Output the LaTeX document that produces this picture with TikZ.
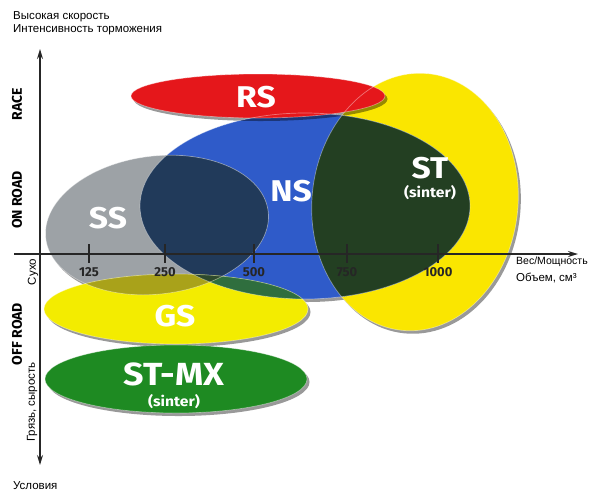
\documentclass[tikz,border=0pt]{standalone}
\usepackage{fontspec}
\setmainfont{Liberation Sans}
\newfontfamily\lf{Fira Sans}
\usetikzlibrary{arrows.meta}
\definecolor{redRS}{HTML}{E5171B}
\definecolor{yelST}{HTML}{FAE600}
\definecolor{blueNS}{HTML}{2F5BC9}
\definecolor{greenST}{HTML}{233F22}
\definecolor{greySS}{HTML}{9DA2A6}
\definecolor{navy}{HTML}{213A5A}
\definecolor{yelGS}{HTML}{F3EC00}
\definecolor{olive}{HTML}{A9A21A}
\definecolor{gsnavy}{HTML}{2E4A2C}
\definecolor{gsblue}{HTML}{2F6E3E}
\definecolor{greenMX}{HTML}{1E8A22}
\newcommand\wide[1]{\scalebox{1.12}[1]{#1}}
\def\pRS{(258,96) ellipse [x radius=127, y radius=22]}
\def\pST{(415,202) ellipse [x radius=103, y radius=129, rotate=-6]}
\def\pNS{(305,206) ellipse [x radius=165, y radius=93]}
\def\pSS{(157,225) ellipse [x radius=112, y radius=69, rotate=7]}
\def\pGS{(176,309) ellipse [x radius=132, y radius=35]}
\def\pMX{(176,379) ellipse [x radius=131, y radius=34]}
\begin{document}
\begin{tikzpicture}[x=1pt,y=-1pt,
  big/.style={font=\lf\bfseries\fontsize{30}{30}\selectfont, text=white, inner sep=0pt},
  sub/.style={font=\lf\bfseries\fontsize{14}{14}\selectfont, text=white, inner sep=0pt},
  ticklbl/.style={font=\lf\bfseries\fontsize{13}{13}\selectfont, text=black!85, inner sep=0pt},
  cat/.style={font=\lf\bfseries\fontsize{14}{14}\selectfont, rotate=90, inner sep=0pt},
  note/.style={font=\fontsize{11.5}{13.5}\selectfont, inner sep=0pt, align=left},
  axis/.style={line width=1.3pt, draw=black!85},
  shadow/.style={fill=black, opacity=0.4},
  rim/.style={draw=white, draw opacity=0.4, line width=0.7pt}
]
\useasboundingbox[fill=white] (0,0) rectangle (593,499);
% shadows
\fill[shadow, shift={(2.5,3)}] \pST;
\fill[shadow, shift={(2.5,3)}] \pNS;
\fill[shadow, shift={(2.5,3)}] \pSS;
% big shapes
\fill[yelST] \pST;
\fill[blueNS] \pNS;
\begin{scope}
  \clip \pST;
  \fill[greenST] \pNS;
\end{scope}
\fill[greySS] \pSS;
\begin{scope}
  \clip \pSS;
  \fill[navy] \pNS;
\end{scope}
% RS
\fill[shadow, shift={(2.5,3)}] \pRS;
\fill[redRS] \pRS;
% GS
\fill[shadow, shift={(2.5,3)}] \pGS;
\fill[yelGS] \pGS;
\begin{scope}
  \clip \pGS;
  \fill[gsblue] \pNS;
  \fill[olive] \pSS;
  \clip \pSS;
  \fill[gsnavy] \pNS;
\end{scope}
% ST-MX
\fill[shadow, shift={(2.5,3)}] \pMX;
\fill[greenMX] \pMX;
% rims
\draw[rim] \pST;
\draw[rim] \pNS;
\draw[rim] \pSS;
\draw[rim] \pRS;
\draw[rim] \pGS;
\draw[rim] \pMX;
% axes
\coordinate (vtop) at (40,49);
\coordinate (vbot) at (40,465);
\coordinate (hl) at (14,254);
\coordinate (hr) at (578,254);
\draw[axis, {Stealth[length=10pt,width=6pt]}-{Stealth[length=10pt,width=6pt]}] (vbot) -- (vtop);
\draw[axis, -{Stealth[length=10pt,width=6pt]}] (hl) -- (hr);
\foreach \x/\t in {89/125, 165/250, 254/500, 347/750, 438/1000} {
  \draw[axis, line width=1.1pt] (\x,244) -- (\x,263);
  \node[ticklbl] (t\t) at (\x,272) {\t};
}
% labels in shapes
\node[big] (lRS) at (256,97) {\wide{RS}};
\node[big] (lNS) at (291,191) {\wide{NS}};
\node[big] (lSS) at (108,218) {\wide{SS}};
\node[big] (lST) at (430,168) {\wide{ST}};
\node[sub] (lSTs) at (430,193) {\wide{(sinter)}};
\node[big] (lGS) at (175,316) {\wide{GS}};
\node[big, font=\lf\bfseries\fontsize{32}{32}\selectfont] (lMX) at (174,374) {\wide{ST-MX}};
\node[sub] (lMXs) at (174,402) {\wide{(sinter)}};
% axis texts
\node[note, anchor=north west] (top) at (13,11) {Высокая скорость\\Интенсивность торможения};
\node[note, anchor=west, font=\fontsize{10.5}{12}\selectfont] (ax1) at (516,262) {Вес/Мощность};
\node[note, anchor=west] (ax2) at (516,278) {Объем, см³};
\node[note, anchor=west] (cond) at (13,486) {Условия};
\node[note, rotate=90] (dry) at (33,272) {Сухо};
\node[note, rotate=90] (mud) at (32,402) {Грязь, сырость};
\node[cat] (race) at (17,104) {RACE};
\node[cat] (onr) at (17,200) {ON ROAD};
\node[cat] (offr) at (17,334) {OFF ROAD};
\end{tikzpicture}
\end{document}
